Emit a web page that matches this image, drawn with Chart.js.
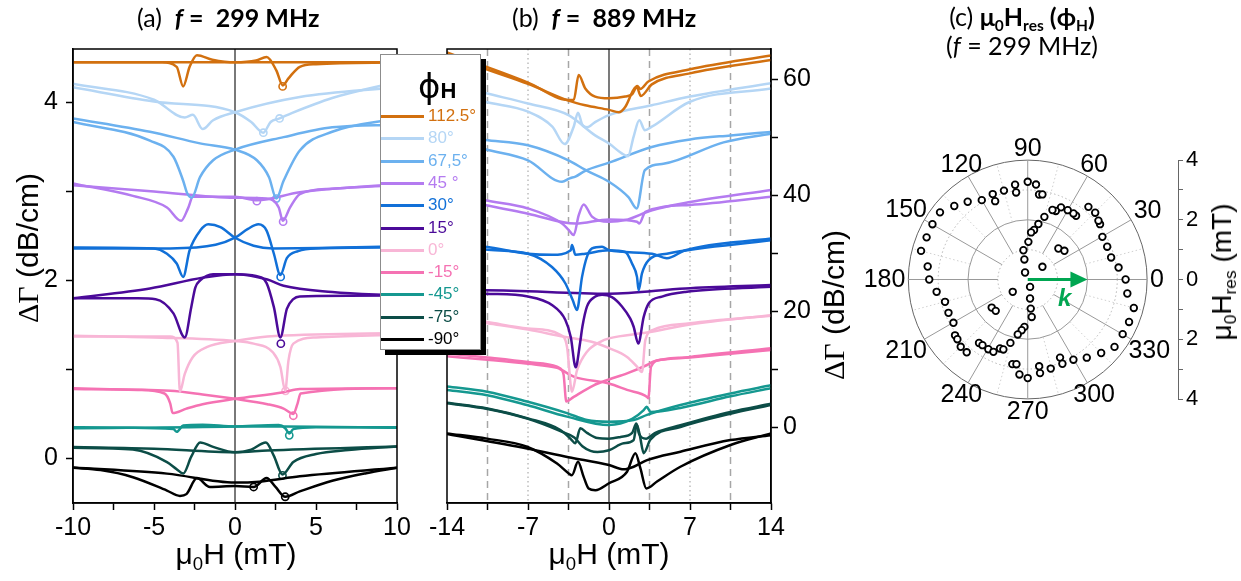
<!DOCTYPE html>
<html>
<head>
<meta charset="utf-8">
<script src="https://cdn.jsdelivr.net/npm/chart.js@4.4.0/dist/chart.umd.min.js"></script>
<style>
  body { margin: 0; background: #fff; }
  #page { position: relative; width: 1241px; height: 581px; overflow: hidden; font-family: 'Liberation Sans', Arial, sans-serif; color: #000; }
  canvas { position: absolute; top: 0; }
  .t { position: absolute; white-space: nowrap; }
  .ttl { font-family: Lato, 'Open Sans', sans-serif; font-size: 25px; }
  .axt { font-size: 30px; transform: translate(-50%, -50%); }
  .rot { transform: translate(-50%, -50%) rotate(-90deg); }
  .serif { font-family: 'Liberation Serif', 'Times New Roman', serif; }
  sub { font-size: 0.62em; line-height: 0; vertical-align: -0.3em; }
  #legend { position: absolute; left: 380px; top: 54px; width: 101px; height: 296px; box-sizing: border-box;
            border: 1px solid #8c8c8c; background: #fff; box-shadow: 5px 5px 0 #000; }
  #legend .row { position: absolute; left: 0; height: 20px; font-size: 17px; line-height: 20px; }
  #legend .sw { position: absolute; left: 0; top: 9px; width: 43px; height: 3px; }
  #legend .lb { position: absolute; left: 47px; top: 0; white-space: nowrap; }
</style>
</head>
<body>
<div id="page">
  <canvas id="cA" width="420" height="560" style="left:0"></canvas>
  <canvas id="cB" width="420" height="560" style="left:420px"></canvas>
  <canvas id="cC" width="381" height="581" style="left:860px"></canvas>

  <div class="t ttl" style="left:137px;top:2px">(a)&nbsp;&nbsp;<b><i>f</i>&nbsp;=&nbsp;&nbsp;299 MHz</b></div>
  <div class="t ttl" style="left:512px;top:2px">(b)&nbsp;&nbsp;<b><i>f</i>&nbsp;=&nbsp;&nbsp;889 MHz</b></div>
  <div class="t ttl" style="left:902px;top:2px;width:240px;text-align:center;line-height:29px">(c) <b>μ<sub>0</sub>H<sub>res</sub> (ϕ<sub>H</sub>)</b><br>(<i>f</i> = 299 MHz)</div>

  <div class="t axt" style="left:236px;top:554px">μ<sub>0</sub>H (mT)</div>
  <div class="t axt" style="left:609px;top:554px">μ<sub>0</sub>H (mT)</div>
  <div class="t axt rot" style="left:28px;top:248px"><span class="serif">ΔΓ</span> (dB/cm)</div>
  <div class="t axt rot" style="left:834px;top:305px"><span class="serif">ΔΓ</span> (dB/cm)</div>
  <div class="t axt rot" style="left:1222px;top:272px;font-size:28px">μ<sub>0</sub>H<sub>res</sub> (mT)</div>
  <div class="t" style="left:1058px;top:284px;font-size:24px;font-weight:bold;font-style:italic;color:#00a651">k</div>

  <div id="legend">
    <div class="t" style="left:37px;top:11px;font-family:'DejaVu Sans',sans-serif;font-size:34px;line-height:40px">ϕ<span style="font-family:'Liberation Sans',sans-serif;font-size:22px;font-weight:bold">H</span></div>
  </div>
</div>

<script>
// field angles and their colours
const phiLabels = ['112.5°', '80°', '67,5°', '45 °', '30°', '15°', '0°', '-15°', '-45°', '-75°', '-90°'];
const phiColors = ['#d2700f', '#b5d6f5', '#6cb1ef', '#b47bf0', '#1170d8', '#4b0a99', '#f8b6d6', '#f572b3', '#159890', '#0c4d47', '#000000'];

// ---- (a) f = 299 MHz, two field sweeps per angle: [mu0H (mT), dGamma (dB/cm)]
const a112_1 = [[-10,4.45],[-4.5,4.45],[-3.6,4.40],[-3.2,4.18],[-2.8,4.40],[-2.35,4.53],[-1.4,4.48],[0,4.45],[10,4.45]];
const a112_2 = [[-10,4.45],[0,4.45],[1.3,4.47],[1.95,4.51],[2.55,4.36],[2.95,4.19],[3.3,4.27],[4.0,4.40],[5.0,4.43],[10,4.45]];
const a80_1 = [[-10,4.21],[-5,4.03],[-3.1,3.83],[-2.6,3.86],[-2.0,3.70],[-1.35,3.80],[0,3.89],[4,4.06],[10,4.17]];
const a80_2 = [[-10,4.17],[-5,4.01],[0,3.89],[1.0,3.78],[1.75,3.66],[2.2,3.78],[2.75,3.82],[3.5,3.88],[6,4.05],[10,4.23]];
const a67_1 = [[-10,3.78],[-5.25,3.57],[-3.8,3.39],[-3.2,3.12],[-2.95,2.98],[-2.67,2.93],[-2.16,3.16],[-1.35,3.35],[0,3.47],[3,3.61],[6,3.72],[10,3.75]];
const a67_2 = [[-10,3.82],[-5.25,3.67],[-2.16,3.54],[0,3.47],[1.35,3.35],[2.1,3.16],[2.55,2.92],[3.0,3.12],[4.0,3.46],[6,3.67],[10,3.82]];
const a45_1 = [[-10,3.09],[-6.3,2.95],[-4.2,2.82],[-3.33,2.67],[-2.9,2.81],[-2.6,2.94],[0,2.94],[1.35,2.90],[4,2.99],[10,3.08]];
const a45_2 = [[-10,3.07],[-5,3.0],[0,2.93],[1.95,2.92],[2.7,2.82],[2.95,2.67],[3.4,2.82],[4.0,2.97],[6,3.03],[10,3.07]];
const a30_1 = [[-10,2.37],[-5,2.36],[-4.2,2.30],[-3.6,2.19],[-3.2,2.04],[-2.8,2.34],[-2.15,2.56],[-1.65,2.63],[-0.9,2.60],[0,2.48],[1.15,2.39],[2.35,2.36],[10,2.38]];
const a30_2 = [[-10,2.36],[-4,2.36],[-1.2,2.40],[0,2.48],[0.8,2.58],[1.45,2.63],[1.95,2.56],[2.4,2.30],[2.8,2.06],[3.2,2.25],[3.9,2.33],[5,2.36],[10,2.37]];
const a15_1 = [[-10,1.80],[-6,1.80],[-4.9,1.79],[-3.8,1.63],[-3.1,1.36],[-2.7,1.70],[-2.45,1.92],[-2.15,2.0],[-1.35,2.07],[0,2.07],[2.0,2.01],[3.0,1.94],[6,1.87],[10,1.83]];
const a15_2 = [[-10,1.80],[-5.25,1.91],[-2,2.03],[0,2.07],[1.3,2.05],[1.95,1.97],[2.4,1.70],[2.8,1.36],[3.2,1.68],[3.6,1.79],[4.0,1.82],[10,1.83]];
const a0_1 = [[-10,1.37],[-4,1.37],[-3.55,1.30],[-3.4,0.75],[-3.1,0.95],[-2.6,1.14],[-1.75,1.25],[0,1.32],[2,1.37],[10,1.41]];
const a0_2 = [[-10,1.38],[-5,1.36],[0,1.32],[1.15,1.29],[2.35,1.19],[2.8,1.03],[3.1,0.76],[3.3,1.10],[3.6,1.29],[5,1.36],[10,1.39]];
const am15_1 = [[-10,0.79],[-6,0.77],[-4.35,0.73],[-4.0,0.62],[-3.85,0.51],[-3.0,0.56],[-2,0.61],[0,0.67],[3,0.745],[4,0.78],[10,0.79]];
const am15_2 = [[-10,0.78],[-4,0.76],[-2,0.72],[0,0.67],[2,0.61],[3,0.56],[3.6,0.50],[3.85,0.61],[4.05,0.73],[10,0.79]];
const am45_1 = [[-10,0.35],[-3.8,0.33],[-3.6,0.30],[-3.2,0.37],[-2,0.38],[0,0.36],[3,0.36],[10,0.345]];
const am45_2 = [[-10,0.34],[0,0.36],[2.7,0.375],[3.1,0.34],[3.35,0.28],[3.6,0.33],[5,0.35],[10,0.35]];
const am75_1 = [[-10,0.12],[-6.3,0.10],[-4.2,-0.04],[-3.6,-0.12],[-3.2,-0.17],[-2.7,0.02],[-2.15,0.18],[-1.35,0.13],[0,0.07],[2,0.09],[10,0.135]];
const am75_2 = [[-10,0.13],[-5,0.11],[0,0.07],[1.0,0.10],[1.9,0.18],[2.4,0.03],[2.93,-0.18],[3.6,-0.04],[5,0.05],[7,0.095],[10,0.135]];
const am90_1 = [[-10,-0.105],[-8.3,-0.13],[-6.3,-0.21],[-4.2,-0.36],[-3.4,-0.42],[-3.0,-0.40],[-2.35,-0.22],[-1.55,-0.32],[0,-0.31],[1.15,-0.32],[1.95,-0.22],[2.5,-0.32],[3.1,-0.43],[4,-0.37],[6,-0.25],[8.1,-0.165],[10,-0.105]];
const am90_2 = [[-10,-0.10],[-4.2,-0.17],[0,-0.27],[1.5,-0.26],[4,-0.20],[10,-0.105]];

// resonance markers in (a)
const aMarkX = [2.94, 1.75, 2.75, 2.55, 1.35, 2.97, 2.82, 2.83, 3.12, 3.6, 3.35, 2.93, 1.15, 3.1];
const aMarkY = [4.18, 3.66, 3.82, 2.92, 2.89, 2.66, 2.04, 1.29, 0.76, 0.48, 0.26, -0.19, -0.32, -0.43];
const aMarkPhi = [0, 1, 1, 2, 3, 3, 4, 5, 6, 7, 8, 9, 10, 10];

// ---- (b) f = 889 MHz
const b112_1 = [[-14,64.6],[-10.7,62.2],[-7,59.4],[-3.5,56.4],[-3.05,56.4],[-2.62,60.7],[-2.05,58.4],[-1.2,57.0],[0,56.7],[1.4,57.0],[2.0,57.4],[2.4,58.6],[2.75,57.1],[3.7,59.1],[7,61.0],[14,63.3]];
const b112_2 = [[-14,64.3],[-10.7,61.8],[-7,59.2],[-3.5,56.3],[-2.05,55.5],[0,54.7],[0.85,54.3],[1.4,55.2],[2.1,58.1],[2.45,58.8],[2.7,58.3],[3.4,59.6],[7,61.7],[14,64.1]];
const b80_1 = [[-14,58.0],[-10.7,56.1],[-7,54.4],[-4.9,51.8],[-3.83,48.8],[-3.05,51.8],[-2.68,54.2],[-2.3,52.1],[-1.9,51.7],[-1.2,52.6],[0,53.8],[3.7,55.5],[7,57.0],[14,59.3]];
const b80_2 = [[-14,59.3],[-10.7,57.6],[-7,55.8],[-3.5,53.8],[-1.2,50.3],[0,48.9],[1.1,47.2],[1.64,46.7],[2.13,50.1],[2.62,52.9],[3.1,51.2],[3.7,51.8],[7,56.1],[14,58.4]];
const b67_1 = [[-14,49.8],[-10.7,47.9],[-7,46.0],[-4.06,42.3],[-3.4,42.9],[-2.9,43.2],[-2.05,44.2],[0,45.6],[3.7,48.3],[7,49.6],[10.5,50.3],[14,50.9]];
const b67_2 = [[-14,50.4],[-10.7,49.5],[-7,48.6],[-3.5,46.0],[-2,44.3],[0,42.3],[1.7,39.6],[2.39,37.7],[3.1,44.3],[4.7,45.4],[9.9,49.1],[14,50.6]];
const b45_1 = [[-14,40.6],[-10.7,39.1],[-7,37.7],[-4.06,35.1],[-3.49,34.0],[-3.05,33.1],[-2.62,36.5],[-2.19,38.4],[-1.47,36.3],[0,35.4],[1.41,35.7],[3.72,37.4],[7,38.8],[14,40.9]];
const b45_2 = [[-14,39.8],[-10.7,38.3],[-7,36.8],[-2.9,35.1],[0,35.8],[2.42,35.4],[2.62,35.1],[3.14,37.1],[7,38.3],[14,39.7]];
const b30_1 = [[-14,31.6],[-10.7,30.6],[-7,29.9],[-4.93,27.6],[-3.78,24.8],[-3.14,21.9],[-2.77,20.2],[-2.33,25.9],[-1.9,29.4],[-1.47,30.8],[-0.6,31.1],[0,30.5],[3.72,29.9],[5.0,29.1],[6.6,30.5],[14,32.5]];
const b30_2 = [[-14,31.5],[-10.7,31.1],[-7,29.9],[-4.9,29.7],[-3.3,30.5],[-3.2,31.4],[-2.9,29.7],[-2.05,29.9],[0,30.5],[1.41,30.2],[1.99,28.2],[2.42,25.9],[2.56,23.6],[2.85,26.5],[3.43,28.8],[5,29.9],[14,32.2]];
const b15_1 = [[-14,23.3],[-10.7,23.0],[-7,22.5],[-4.9,21.0],[-3.78,18.5],[-3.3,15.5],[-2.88,10.3],[-2.5,14.5],[-2.3,17.3],[-1.9,20.8],[-1.18,22.5],[-0.6,22.8],[0.25,22.4],[1.12,20.8],[1.84,18.7],[2.13,17.3],[2.53,14.4],[3.0,19.0],[3.43,21.3],[4.58,22.5],[6.6,23.3],[14,24.2]];
const b15_2 = [[-14,23.6],[-10.7,23.6],[0,23.0],[6.6,23.9],[14,24.5]];
const b0_1 = [[-14,19.2],[-10.5,18.1],[-7,17.0],[-4.2,15.9],[-3.63,13.85],[-3.2,6.1],[-2.76,9.8],[-1.9,13.0],[-0.75,14.7],[0,15.3],[3.26,16.3],[7,17.7],[14,19.3]];
const b0_2 = [[-14,19.0],[-10.5,17.9],[-7,16.8],[-4.0,15.6],[-1.5,14.7],[0,13.6],[1.56,12.1],[2.42,10.4],[2.85,9.5],[3.14,15.0],[3.86,16.8],[7,17.9],[14,19.2]];
const bm15_1 = [[-14,12.7],[-10.5,12.0],[-7,11.2],[-4.49,10.4],[-4.06,9.8],[-3.92,9.0],[-3.69,4.4],[-3.05,5.2],[-1.32,7.2],[0,8.2],[1.56,9.25],[3.29,10.7],[3.86,11.3],[7,12.1],[14,13.6]];
const bm15_2 = [[-14,12.2],[-10.5,11.6],[-7,10.9],[-4.49,10.2],[-4.06,9.8],[-3.05,8.7],[0,7.5],[1.56,6.4],[3.29,5.2],[3.4,4.95],[3.63,10.4],[4.44,11.6],[7,12.0],[14,13.3]];
const bm45_1 = [[-14,7.0],[-10.54,6.1],[-7.09,4.4],[-3.63,2.4],[-1.9,1.2],[0,0.9],[2.13,1.2],[3.29,2.1],[6.17,3.8],[10.5,5.8],[14,7.2]];
const bm45_2 = [[-14,6.4],[-10.54,5.5],[-7.09,3.8],[-3.63,1.8],[0,0.35],[2.0,1.4],[3.0,2.9],[3.25,3.5],[3.6,2.6],[6.17,3.3],[10.5,5.3],[14,6.7]];
const bm75_1 = [[-14,4.2],[-10.5,3.2],[-7,1.5],[-4.2,-0.5],[-3.34,-2.0],[-2.91,-2.8],[-2.48,-0.2],[-1.9,-1.0],[-1.0,-1.9],[0,-2.0],[1.0,-1.7],[2.0,-1.0],[2.36,0.6],[2.6,-1.2],[3.2,-2.0],[4.0,-1.0],[6.17,0.3],[10.5,2.6],[14,4.0]];
const bm75_2 = [[-14,4.1],[-10.5,3.1],[-7,1.4],[-4.2,-0.7],[-3.0,-1.8],[-2.3,-3.3],[-1.6,-4.1],[-1.0,-4.3],[0,-4.0],[1.27,-2.8],[2.13,-2.25],[2.4,0.4],[2.65,-1.3],[3.0,-4.5],[3.57,-2.2],[6.17,0.0],[10.5,2.3],[14,3.8]];
const bm90_1 = [[-14,-1.1],[-10.54,-2.0],[-7.09,-3.4],[-4.49,-6.3],[-3.48,-8.0],[-3.2,-8.3],[-2.68,-6.0],[-2.19,-8.6],[-1.76,-10.6],[-1.18,-10.9],[0,-9.7],[1.56,-7.7],[2.28,-4.5],[2.71,-7.1],[3.23,-10.6],[4.15,-9.4],[6.17,-6.85],[10.5,-3.1],[14,-1.1]];
const bm90_2 = [[-14,-1.2],[-7.09,-3.7],[-3.5,-5.2],[0,-6.55],[1.27,-7.3],[2.13,-6.85],[3.29,-5.7],[6.17,-4.25],[10.5,-2.25],[14,-1.4]];

// ---- (c) resonance field vs angle (deg, mT)
const polPhi = [90,85,82.4,80.2,97.6,97.6,105,112.3,112.6,120.1,127.7,135,142.6,149.9,157.4,165,172.6,180,187.7,195.1,
  202.8,210.2,217.5,220.3,225.1,230,232.5,235.4,240.5,244.6,248.1,250.8,254.7,259.7,262.4,265,270,277.5,277.5,284.5,
  292.5,292.4,299.7,307.1,315,322.2,330.1,337.3,345,352,0,7.5,14.8,22.4,29.7,37.4,39.7,44.7,50.1,52.8,
  55.3,60,65.2,67.7,70.4,75.1,79.1,82.7,85.9,89,98.4,99.5,110.9,219.4,287.6,277,275.9,276.1,266,263.2,
  259.7,40.8,45.3,38,217.9,224.4];
const polHres = [3.27,3.19,2.87,2.89,3.20,2.94,3.08,3.09,2.84,3.07,3.29,3.48,3.70,3.69,3.67,3.70,3.38,3.30,3.08,2.87,
  2.88,2.88,3.07,3.09,3.18,3.18,2.68,2.67,2.68,2.68,2.49,2.48,2.20,2.88,2.86,3.19,3.30,2.93,3.16,3.08,
  2.83,3.05,3.09,3.28,3.48,3.68,3.67,3.68,3.68,3.37,3.28,3.07,2.89,2.88,2.88,3.05,3.08,3.18,3.17,2.68,
  2.69,2.68,2.66,2.48,2.47,2.17,1.89,1.67,1.58,1.26,0.99,0.68,0.25,0.65,0.26,0.64,0.98,1.26,1.59,1.71,
  1.87,0.65,1.46,1.56,1.53,1.50];

// tick labels
const aTicksX = [-10, -5, 0, 5, 10];
const aTicksY = [0, 2, 4];
const bTicksX = [-14, -7, 0, 7, 14];
const bTicksY = [0, 20, 40, 60];
const polTicks = [-4, -2, 0, 2, 4];
const polAngles = [0, 30, 60, 90, 120, 150, 180, 210, 240, 270, 300, 330];

const aSweeps = [[a112_1,a112_2],[a80_1,a80_2],[a67_1,a67_2],[a45_1,a45_2],[a30_1,a30_2],[a15_1,a15_2],
                 [a0_1,a0_2],[am15_1,am15_2],[am45_1,am45_2],[am75_1,am75_2],[am90_1,am90_2]];
const bSweeps = [[b112_1,b112_2],[b80_1,b80_2],[b67_1,b67_2],[b45_1,b45_2],[b30_1,b30_2],[b15_1,b15_2],
                 [b0_1,b0_2],[bm15_1,bm15_2],[bm45_1,bm45_2],[bm75_1,bm75_2],[bm90_1,bm90_2]];

// legend (html, spans both panels)
const legend = document.getElementById('legend');
phiLabels.forEach((lab, i) => {
  const row = document.createElement('div');
  row.className = 'row';
  row.style.top = (51 + i * 22.3) + 'px';
  row.innerHTML = '<div class="sw" style="background:' + phiColors[i] + '"></div>' +
                  '<div class="lb" style="color:' + phiColors[i] + '">' + lab + '</div>';
  legend.appendChild(row);
});

const tickFont = { family: 'Liberation Sans', size: 25 };

function sweepDatasets(sweeps) {
  const ds = [];
  sweeps.forEach((pair, i) => {
    pair.forEach(s => {
      ds.push({
        data: s.map(p => ({ x: p[0], y: p[1] })),
        borderColor: phiColors[i],
        borderWidth: 2.5,
        pointRadius: 0,
        cubicInterpolationMode: 'monotone',
        fill: false
      });
    });
  });
  return ds;
}

// vertical guide lines + closed frame around the plot area
const framePlugin = {
  id: 'frame',
  beforeDatasetsDraw(chart, args, opts) {
    const { ctx, chartArea: a, scales: { x } } = chart;
    (opts.lines || []).forEach(l => {
      const px = x.getPixelForValue(l.v);
      ctx.save();
      ctx.strokeStyle = l.c;
      ctx.lineWidth = l.w;
      ctx.setLineDash(l.d || []);
      ctx.beginPath();
      ctx.moveTo(px, a.top);
      ctx.lineTo(px, a.bottom);
      ctx.stroke();
      ctx.restore();
    });
  },
  afterDraw(chart) {
    const { ctx, chartArea: a } = chart;
    ctx.save();
    ctx.strokeStyle = '#000';
    ctx.lineWidth = 1.5;
    ctx.strokeRect(a.left, a.top, a.right - a.left, a.bottom - a.top);
    ctx.restore();
  }
};

function stepFilter(step) {
  return s => { s.ticks = s.ticks.filter(t => Math.abs(t.value / step - Math.round(t.value / step)) < 1e-6); };
}

// (a)
new Chart(document.getElementById('cA'), {
  type: 'line',
  data: {
    datasets: sweepDatasets(aSweeps).concat([{
      data: aMarkX.map((x, i) => ({ x: x, y: aMarkY[i] })),
      showLine: false,
      pointRadius: 3.6,
      pointBorderWidth: 1.6,
      pointBorderColor: aMarkPhi.map(i => phiColors[i]),
      pointBackgroundColor: 'rgba(255,255,255,0)',
      borderColor: 'rgba(0,0,0,0)'
    }])
  },
  options: {
    responsive: false, animation: false, devicePixelRatio: 1,
    layout: { padding: { left: 0, top: 49, right: 23, bottom: 0 } },
    plugins: { legend: { display: false }, tooltip: { enabled: false },
               frame: { lines: [{ v: 0, c: '#4d4d4d', w: 1.5 }] } },
    scales: {
      x: {
        type: 'linear', min: -10, max: 10,
        afterBuildTicks: stepFilter(2.5),
        ticks: { stepSize: 2.5, autoSkip: false, maxRotation: 0, padding: 3, color: '#000', font: tickFont,
                 callback: v => aTicksX.includes(v) ? String(v) : '' },
        grid: { drawOnChartArea: false, tickLength: 7, tickColor: '#000', tickWidth: 1.5 },
        border: { color: '#000', width: 1.5 },
        afterFit: s => { s.height = 57; }
      },
      y: {
        min: -0.5, max: 4.6,
        afterBuildTicks: stepFilter(1),
        ticks: { stepSize: 1, autoSkip: false, padding: 8, color: '#000', font: tickFont,
                 callback: v => aTicksY.includes(v) ? String(v) : '' },
        grid: { drawOnChartArea: false, tickLength: 7, tickColor: '#000', tickWidth: 1.5 },
        border: { color: '#000', width: 1.5 },
        afterFit: s => { s.width = 73; }
      }
    }
  },
  plugins: [framePlugin]
});

// (b)
new Chart(document.getElementById('cB'), {
  type: 'line',
  data: { datasets: sweepDatasets(bSweeps) },
  options: {
    responsive: false, animation: false, devicePixelRatio: 1,
    layout: { padding: { left: 27, top: 49, right: 0, bottom: 0 } },
    plugins: { legend: { display: false }, tooltip: { enabled: false },
               frame: { lines: [
                 { v: -10.5, c: '#a6a6a6', w: 1.5, d: [7, 5] }, { v: -3.5, c: '#a6a6a6', w: 1.5, d: [7, 5] },
                 { v: 3.5, c: '#a6a6a6', w: 1.5, d: [7, 5] }, { v: 10.5, c: '#a6a6a6', w: 1.5, d: [7, 5] },
                 { v: -7, c: '#9a9a9a', w: 1, d: [1.5, 3] }, { v: 7, c: '#9a9a9a', w: 1, d: [1.5, 3] },
                 { v: 0, c: '#333', w: 1.3 } ] } },
    scales: {
      x: {
        type: 'linear', min: -14, max: 14,
        afterBuildTicks: stepFilter(3.5),
        ticks: { stepSize: 3.5, autoSkip: false, maxRotation: 0, padding: 3, color: '#000', font: tickFont,
                 callback: v => bTicksX.includes(v) ? String(v) : '' },
        grid: { drawOnChartArea: false, tickLength: 7, tickColor: '#000', tickWidth: 1.5 },
        border: { color: '#000', width: 1.5 },
        afterFit: s => { s.height = 57; }
      },
      y: {
        position: 'right', min: -13.1, max: 65.2,
        afterBuildTicks: stepFilter(10),
        ticks: { stepSize: 10, autoSkip: false, padding: 5, color: '#000', font: tickFont,
                 callback: v => bTicksY.includes(v) ? String(v) : '' },
        grid: { drawOnChartArea: false, tickLength: 7, tickColor: '#000', tickWidth: 1.5 },
        border: { color: '#000', width: 1.5 },
        afterFit: s => { s.width = 69; }
      }
    }
  },
  plugins: [framePlugin]
});

// (c) polar grid, labels and k arrow drawn around an equal-aspect scatter
const polarPlugin = {
  id: 'polar',
  beforeDatasetsDraw(chart) {
    const { ctx, scales: { x, y } } = chart;
    const cx = x.getPixelForValue(0), cy = y.getPixelForValue(0);
    const u = x.getPixelForValue(1) - cx;
    ctx.save();
    [1, 2, 3, 4].forEach(r => {
      ctx.beginPath();
      ctx.setLineDash(r % 2 ? [1.5, 2.5] : []);
      ctx.strokeStyle = r === 4 ? '#666' : (r % 2 ? '#b5b5b5' : '#999');
      ctx.lineWidth = 1;
      ctx.arc(cx, cy, r * u, 0, 2 * Math.PI);
      ctx.stroke();
    });
    for (let a = 0; a < 360; a += 15) {
      const major = a % 30 === 0;
      const t = a * Math.PI / 180;
      const r0 = major ? 1 : 2;
      ctx.beginPath();
      ctx.setLineDash(major ? [] : [1.5, 2.5]);
      ctx.strokeStyle = major ? '#999' : '#c4c4c4';
      ctx.lineWidth = major ? 1 : 0.8;
      ctx.moveTo(cx + r0 * u * Math.cos(t), cy - r0 * u * Math.sin(t));
      ctx.lineTo(cx + 4 * u * Math.cos(t), cy - 4 * u * Math.sin(t));
      ctx.stroke();
    }
    ctx.restore();
  },
  afterDatasetsDraw(chart) {
    const { ctx, scales: { x, y } } = chart;
    const cx = x.getPixelForValue(0), cy = y.getPixelForValue(0);
    const tip = x.getPixelForValue(2);
    ctx.save();
    ctx.strokeStyle = '#00a651';
    ctx.fillStyle = '#00a651';
    ctx.lineWidth = 3;
    ctx.beginPath();
    ctx.moveTo(cx, cy);
    ctx.lineTo(tip - 14, cy);
    ctx.stroke();
    ctx.beginPath();
    ctx.moveTo(tip, cy);
    ctx.lineTo(tip - 17, cy - 8);
    ctx.lineTo(tip - 17, cy + 8);
    ctx.closePath();
    ctx.fill();
    ctx.restore();
  },
  afterDraw(chart) {
    const { ctx, scales: { x, y } } = chart;
    const cx = x.getPixelForValue(0), cy = y.getPixelForValue(0);
    const u = x.getPixelForValue(1) - cx;
    ctx.save();
    ctx.font = '25px "Liberation Sans"';
    ctx.fillStyle = '#000';
    ctx.textAlign = 'center';
    ctx.textBaseline = 'middle';
    polAngles.forEach(a => {
      const t = a * Math.PI / 180;
      const txt = String(a);
      const hw = ctx.measureText(txt).width / 2, hh = 9;
      const c = Math.abs(Math.cos(t)), s = Math.abs(Math.sin(t));
      const d = Math.min(c > 1e-6 ? hw / c : 1e9, s > 1e-6 ? hh / s : 1e9);
      const R = 4 * u + 3 + d;
      ctx.fillText(txt, cx + R * Math.cos(t), cy - R * Math.sin(t) + 1);
    });
    ctx.restore();
  }
};

new Chart(document.getElementById('cC'), {
  type: 'scatter',
  data: {
    datasets: [{
      data: polPhi.map((p, i) => ({
        x: polHres[i] * Math.cos(p * Math.PI / 180),
        y: polHres[i] * Math.sin(p * Math.PI / 180)
      })),
      pointRadius: 3.3,
      pointBorderWidth: 1.8,
      pointBorderColor: '#000',
      pointBackgroundColor: '#fff'
    }]
  },
  options: {
    responsive: false, animation: false, devicePixelRatio: 1,
    layout: { padding: { left: 36.4, top: 160, right: 0, bottom: 182 } },
    plugins: { legend: { display: false }, tooltip: { enabled: false } },
    scales: {
      x: { type: 'linear', display: false, min: -4.4, max: 5.035 },
      y: {
        position: 'right', min: -4, max: 4,
        afterBuildTicks: stepFilter(1),
        ticks: { stepSize: 1, autoSkip: false, padding: 3, color: '#000',
                 font: { family: 'Liberation Sans', size: 22 },
                 callback: v => polTicks.includes(v) ? String(Math.abs(v)) : '' },
        grid: { drawOnChartArea: false, tickLength: 5, tickColor: '#666' },
        border: { color: '#666', width: 1 },
        afterFit: s => { s.width = 63; }
      }
    }
  },
  plugins: [polarPlugin]
});
</script>
</body>
</html>
